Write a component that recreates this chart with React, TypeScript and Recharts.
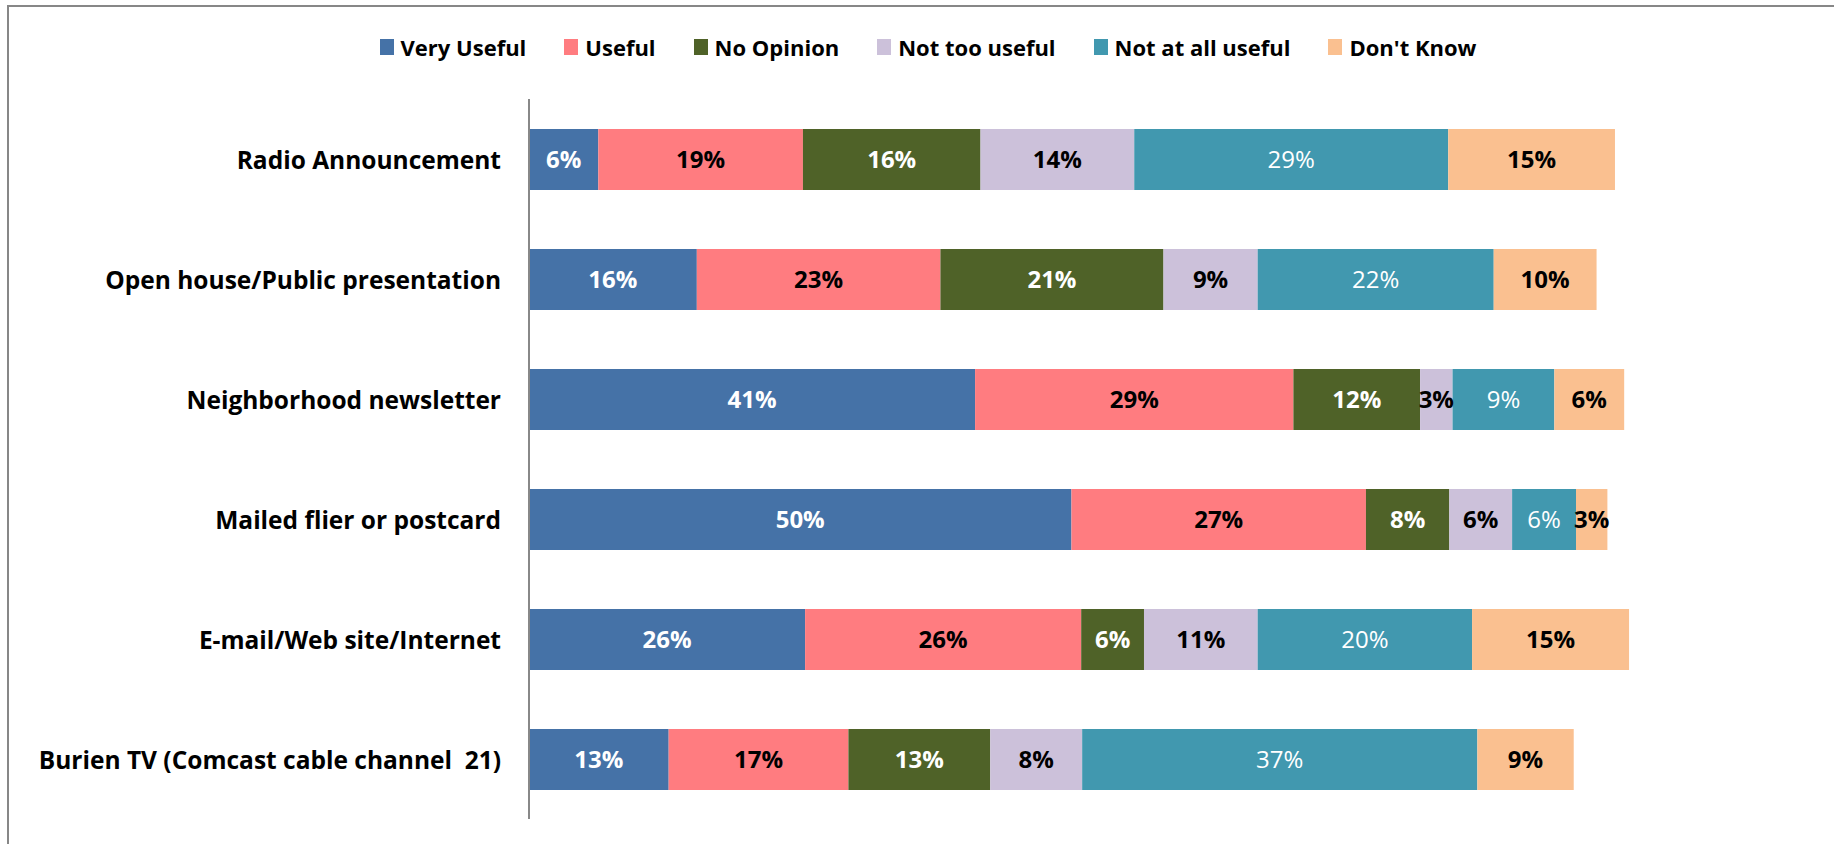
import React from "react"
import { BarChart, Bar, XAxis, YAxis, LabelList } from "recharts"

// categories, top to bottom
const categories = [
  "Radio Announcement",
  "Open house/Public presentation",
  "Neighborhood newsletter",
  "Mailed flier or postcard",
  "E-mail/Web site/Internet",
  "Burien TV (Comcast cable channel  21)",
]

// values in percent
const veryUseful = [6.4, 15.5, 41.2, 50.1, 25.5, 12.9]
const useful = [18.9, 22.5, 29.4, 27.2, 25.5, 16.6]
const noOpinion = [16.4, 20.6, 11.7, 7.7, 5.8, 13.1]
const notTooUseful = [14.2, 8.7, 3.0, 5.8, 10.5, 8.49]
const notAtAllUseful = [29.0, 21.8, 9.4, 5.9, 19.8, 36.5]
const dontKnow = [15.4, 9.5, 6.45, 2.9, 14.5, 8.9]

const seriesNames = ["Very Useful", "Useful", "No Opinion", "Not too useful", "Not at all useful", "Don't Know"]

const SERIES = [
  { key: "veryUseful", name: seriesNames[0], values: veryUseful, color: "#4572A7", label: "#ffffff", weight: 700 },
  { key: "useful", name: seriesNames[1], values: useful, color: "#FF7C80", label: "#000000", weight: 700 },
  { key: "noOpinion", name: seriesNames[2], values: noOpinion, color: "#4F6228", label: "#ffffff", weight: 700 },
  { key: "notTooUseful", name: seriesNames[3], values: notTooUseful, color: "#CCC1DA", label: "#000000", weight: 700 },
  { key: "notAtAllUseful", name: seriesNames[4], values: notAtAllUseful, color: "#4198AF", label: "#ffffff", weight: 400 },
  { key: "dontKnow", name: seriesNames[5], values: dontKnow, color: "#FAC090", label: "#000000", weight: 700 },
]

const data = categories.map((name, i) => {
  const row: any = { name }
  SERIES.forEach((s) => {
    row[s.key] = s.values[i]
  })
  return row
})

const FONT = "'Open Sans', sans-serif"

// plain svg text so the double space in the last label survives
const CategoryTick = ({ x, y, payload }: any) => (
  <text
    x={x}
    y={y}
    textAnchor="end"
    dominantBaseline="central"
    fill="#000"
    fontSize={24.5}
    fontWeight={700}
    fontFamily={FONT}
    style={{ whiteSpace: "pre" }}
  >
    {payload.value}
  </text>
)

// legend drawn as one centered row above the plot
const LegendRow = () => (
  <div
    style={{
      position: "absolute",
      top: 33,
      left: 11,
      width: 1834,
      display: "flex",
      justifyContent: "center",
      gap: 38,
      fontFamily: FONT,
      fontWeight: 700,
      fontSize: 22,
      lineHeight: "28px",
    }}
  >
    {SERIES.map((s) => (
      <div key={s.key} style={{ display: "flex", alignItems: "center" }}>
        <span style={{ display: "inline-block", width: 14, height: 16, background: s.color, marginRight: 7 }} />
        <span style={{ color: "#000" }}>{s.name}</span>
      </div>
    ))}
  </div>
)

export default function App() {
  return (
    <div style={{ position: "absolute", left: 0, top: 0, width: 1834, height: 844, background: "#fff" }}>
      <div
        style={{
          position: "absolute",
          left: 7,
          top: 5,
          right: 0,
          bottom: 0,
          borderLeft: "2px solid #878787",
          borderTop: "2px solid #878787",
        }}
      />
      <LegendRow />
      <div style={{ position: "absolute", left: 0, top: 0 }}>
        <BarChart
          width={1834}
          height={844}
          layout="vertical"
          data={data}
          margin={{ top: 99, right: 114, left: 0, bottom: 25 }}
          barSize={61}
        >
          {/* fixed domain, wider than any row total, so the scale stays put */}
          <XAxis type="number" domain={[0, 110]} hide />
          <YAxis
            type="category"
            dataKey="name"
            width={529}
            axisLine={{ stroke: "#888888", strokeWidth: 2 }}
            tickLine={false}
            tickSize={0}
            tickMargin={28}
            tick={<CategoryTick />}
            interval={0}
          />
          {SERIES.map((s) => (
            <Bar key={s.key} dataKey={s.key} name={s.name} stackId="a" fill={s.color} isAnimationActive={false}>
              <LabelList
                dataKey={s.key}
                position="center"
                formatter={(v: number) => `${Math.round(v)}%`}
                style={{ fill: s.label, fontSize: 24, fontWeight: s.weight, fontFamily: FONT }}
              />
            </Bar>
          ))}
        </BarChart>
      </div>
    </div>
  )
}
